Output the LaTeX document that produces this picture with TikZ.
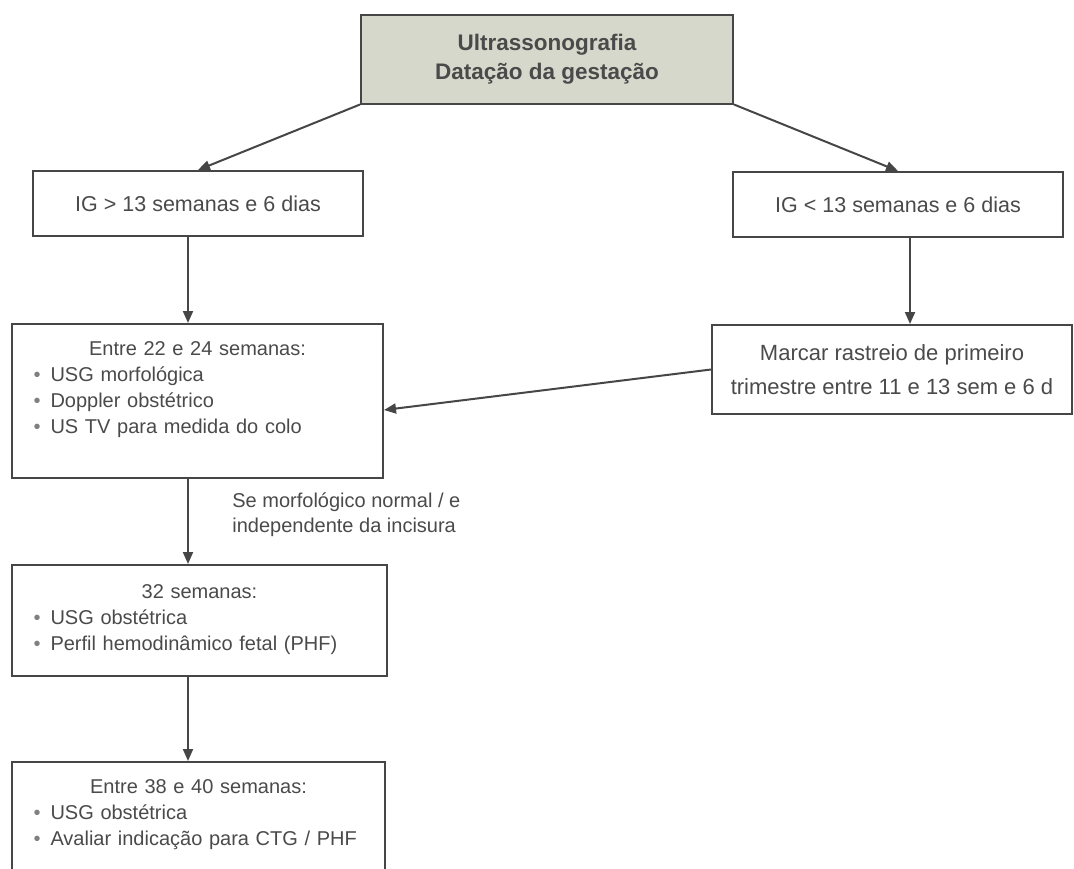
\documentclass[tikz,border=0pt]{standalone}
\usepackage{fontspec}
\setmainfont{Liberation Sans}
\usepackage{xcolor}
\usetikzlibrary{positioning, arrows.meta}
\definecolor{inkgray}{RGB}{74,74,74}
\definecolor{linegray}{RGB}{70,70,70}
\definecolor{headfill}{RGB}{214,216,204}
\setlength{\parindent}{0pt}
\newcommand{\blt}{\makebox[8.5pt][l]{\textcolor{gray}{\textbullet}}}

\begin{document}
\begin{tikzpicture}[x=0.5pt,y=-0.5pt,
        box/.style={draw=linegray, line width=1pt, rectangle, inner sep=0pt, text=inkgray},
        flow/.style={draw=linegray, line width=1pt, -{Triangle[length=6pt,width=5pt]}},
        lst/.style={inner sep=0pt, text=inkgray, align=left, font=\fontsize{10}{13}\selectfont}]
        \useasboundingbox (0,0) rectangle (1074,868);
        \clip (0,0) rectangle (1074,868);
        \node[box, fill=headfill, minimum width=186pt, minimum height=44.5pt, align=center, font=\bfseries\fontsize{11.25}{14.5}\selectfont] (usg) at (547,59) {Ultrassonografia\\Datação da gestação};
        \node[box, minimum width=165pt, minimum height=32.5pt, font=\fontsize{10.75}{13}\selectfont] (igmaior) at (198,203.5) {IG > 13 semanas e 6 dias};
        \node[box, minimum width=165pt, minimum height=32.5pt, font=\fontsize{10.75}{13}\selectfont] (igmenor) at (898,204.5) {IG < 13 semanas e 6 dias};
        \node[box, minimum width=180pt, minimum height=44.5pt, align=center, font=\fontsize{11}{17}\selectfont] (rastreio) at (892,369.5) {Marcar rastreio de primeiro\\trimestre entre 11 e 13 sem e 6 d};
        \node[box, minimum width=185.5pt, minimum height=77pt] (sem22) at (197.5,401) {};
        \node[lst, text width=164pt, below=9pt of sem22.north] (sem22txt) {{\centering Entre 22 e 24 semanas:\par}\blt USG morfológica\\\blt Doppler obstétrico\\\blt US TV para medida do colo};
        \node[box, minimum width=187.5pt, minimum height=55.5pt] (sem32) at (199.5,620.5) {};
        \node[lst, text width=166pt, below=10pt of sem32.north] (sem32txt) {{\centering 32 semanas:\par}\blt USG obstétrica\\\blt Perfil hemodinâmico fetal (PHF)};
        \node[box, minimum width=186.5pt, minimum height=55pt] (sem38) at (198.5,817) {};
        \node[lst, text width=165pt, below=9pt of sem38.north] (sem38txt) {{\centering Entre 38 e 40 semanas:\par}\blt USG obstétrica\\\blt Avaliar indicação para CTG / PHF};
        \node[anchor=north west, inner sep=0pt, align=left, text=inkgray, font=\fontsize{10}{12.5}\selectfont] (cond) at (232,492) {Se morfológico normal / e\\independente da incisura};
        \coordinate (leftaxis) at (188,0);
        \coordinate (rightaxis) at (910,0);
        \draw[flow] (usg.south west) -- (igmaior.north);
        \draw[flow] (usg.south east) -- (igmenor.north);
        \draw[flow] (igmaior.south -| leftaxis) -- (sem22.north -| leftaxis);
        \draw[flow] (sem22.south -| leftaxis) -- (sem32.north -| leftaxis);
        \draw[flow] (sem32.south -| leftaxis) -- (sem38.north -| leftaxis);
        \draw[flow] (igmenor.south -| rightaxis) -- (rastreio.north -| rightaxis);
        \draw[flow] (rastreio.west) -- ([yshift=-4.5pt]sem22.east);
\end{tikzpicture}
\end{document}
